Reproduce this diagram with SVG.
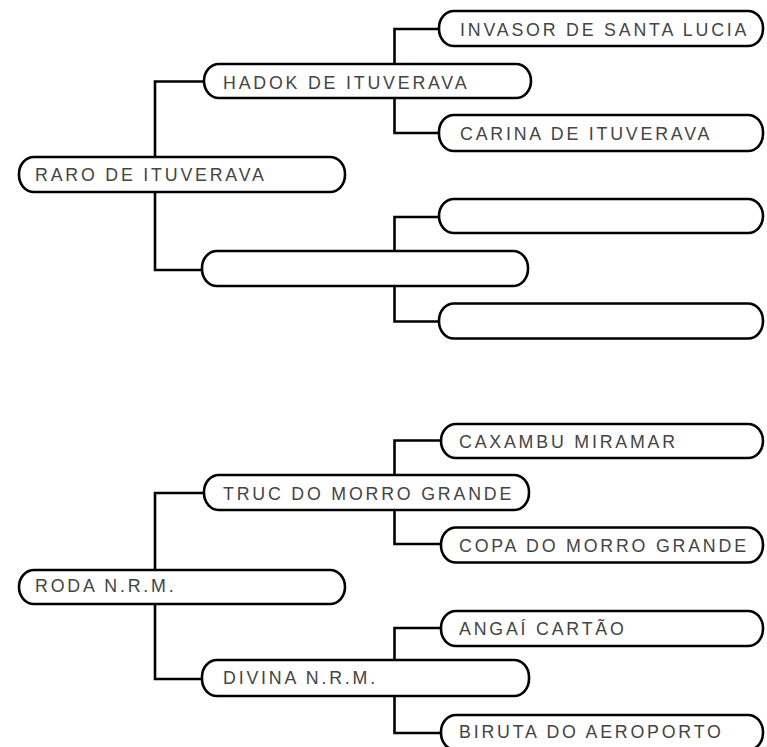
<svg xmlns="http://www.w3.org/2000/svg" width="767" height="747" viewBox="0 0 767 747">
<style>
.box{fill:#fff;stroke:#000;stroke-width:2.6}
.lbl{font-family:"Liberation Sans",Arial,sans-serif;font-size:17.8px;letter-spacing:2.8px;fill:#444}
.conn path{fill:none;stroke:#000;stroke-width:2.6}
</style>
<rect width="767" height="747" fill="#fff"/>
<g class="conn">
<path d="M204,81.5 H155 V157"/>
<path d="M155,192 V270 H202"/>
<path d="M439,29 H394.5 V64"/>
<path d="M394.5,98 V133 H439"/>
<path d="M439,217 H394.5 V251"/>
<path d="M394.5,286 V321.5 H439"/>
<path d="M204,493 H155 V570"/>
<path d="M155,604 V679 H202"/>
<path d="M441,440.5 H394.5 V475"/>
<path d="M394.5,510 V544 H441"/>
<path d="M441,628 H394.5 V660"/>
<path d="M394.5,696 V733 H441"/>
</g>
<g id="raro"><rect class="box" x="19" y="157" width="326" height="35" rx="15" ry="17"/><text class="lbl" x="35" y="181">RARO DE ITUVERAVA</text></g>
<g id="hadok"><rect class="box" x="204" y="64" width="327" height="34" rx="15" ry="17"/><text class="lbl" x="223" y="89">HADOK DE ITUVERAVA</text></g>
<g id="invasor"><rect class="box" x="439" y="11" width="324" height="35" rx="15" ry="17"/><text class="lbl" x="460" y="36">INVASOR DE SANTA LUCIA</text></g>
<g id="carina"><rect class="box" x="439" y="115" width="324" height="36" rx="15" ry="17"/><text class="lbl" x="460" y="140">CARINA DE ITUVERAVA</text></g>
<g id="empty1"><rect class="box" x="202" y="251" width="326" height="35" rx="15" ry="17"/></g>
<g id="empty2"><rect class="box" x="439" y="199" width="324" height="34" rx="15" ry="17"/></g>
<g id="empty3"><rect class="box" x="439" y="303.5" width="324" height="35" rx="15" ry="17"/></g>
<g id="roda"><rect class="box" x="19" y="570" width="326" height="34" rx="15" ry="17"/><text class="lbl" x="35" y="592">RODA N.R.M.</text></g>
<g id="truc"><rect class="box" x="204" y="475" width="325" height="35" rx="15" ry="17"/><text class="lbl" x="223" y="500">TRUC DO MORRO GRANDE</text></g>
<g id="caxambu"><rect class="box" x="441" y="424" width="322" height="34" rx="15" ry="17"/><text class="lbl" x="459" y="448">CAXAMBU MIRAMAR</text></g>
<g id="copa"><rect class="box" x="441" y="527.5" width="322" height="35" rx="15" ry="17"/><text class="lbl" x="459" y="552">COPA DO MORRO GRANDE</text></g>
<g id="divina"><rect class="box" x="202" y="660" width="327" height="36" rx="15" ry="17"/><text class="lbl" x="223" y="684">DIVINA N.R.M.</text></g>
<g id="angai"><rect class="box" x="441" y="611" width="322" height="35" rx="15" ry="17"/><text class="lbl" x="459" y="635">ANGAÍ CARTÃO</text></g>
<g id="biruta"><rect class="box" x="441" y="715" width="322" height="35" rx="15" ry="17"/><text class="lbl" x="459" y="738">BIRUTA DO AEROPORTO</text></g>
</svg>
